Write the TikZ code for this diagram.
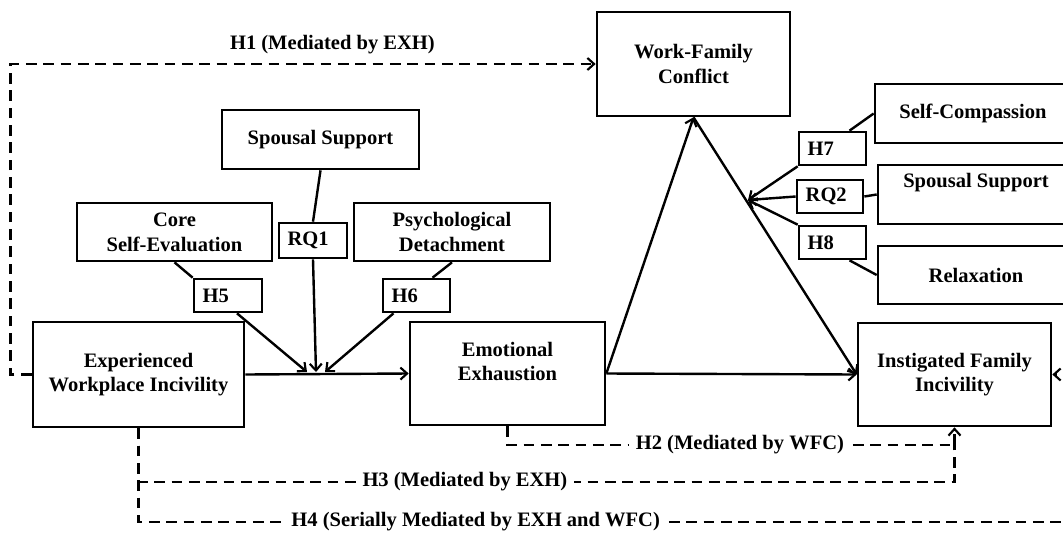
\documentclass[tikz,border=0pt]{standalone}
\usepackage{fontspec}
\setmainfont{Liberation Serif}
\usetikzlibrary{arrows.meta,calc}
\definecolor{black}{RGB}{0,0,0}
\definecolor{white}{RGB}{255,255,255}
\newcommand{\figfont}{\fontsize{15.4}{18.5}\selectfont\bfseries}
\tikzset{
  box/.style={draw=black, line width=2pt, align=center, inner sep=0pt, font=\figfont},
  txt/.style={align=center, inner sep=0pt, font=\figfont},
  tagbox/.style={draw=black, line width=2pt, align=left, inner xsep=6.5pt, inner ysep=0pt,
    minimum height=24.75pt, text width=#1, font=\figfont},
  link/.style={black, line width=1.8pt},
  arr/.style={link, -{Straight Barb[length=5pt,width=9pt,line width=1.6pt]}},
  dline/.style={link, dash pattern=on 8pt off 5pt},
  hyp/.style={font=\figfont, fill=white, inner xsep=5pt, inner ysep=1pt}
}

\begin{document}
\begin{tikzpicture}[x=0.75pt,y=-0.75pt]
	\useasboundingbox (0,0) rectangle (1063,536);
	\clip (0,0) rectangle (1063,536);

	% main constructs
	\node[box,minimum width=158.25pt,minimum height=78.75pt] (ewi) at (138.5,374.5) {Experienced\\Workplace Incivility};
	\node[box,minimum width=146.25pt,minimum height=77.25pt] (exh) at (507.5,373.5) {};
	\node[txt] (exhtext) at ([yshift=9pt]exh.center) {Emotional\\Exhaustion};
	\node[box,minimum width=144.75pt,minimum height=78pt] (wfc) at (693.5,64) {Work-Family\\Conflict};
	\node[box,minimum width=144.75pt,minimum height=77.25pt] (ifi) at (954.5,374.5) {Instigated Family\\Incivility};

	% moderators, left
	\node[box,minimum width=147.75pt,minimum height=44.25pt] (ss1) at (320.5,139.5) {Spousal Support};
	\node[box,minimum width=146.25pt,minimum height=43.5pt] (cse) at (174.5,232) {Core\\Self-Evaluation};
	\node[box,minimum width=147pt,minimum height=43.5pt] (pd) at (452,232) {Psychological\\Detachment};
	\node[tagbox=38pt] (h5) at (228,295.5) {H5};
	\node[tagbox=38pt,minimum height=26.25pt] (rq1) at (313,240.5) {RQ1};
	\node[tagbox=37.25pt] (h6) at (416.5,295.5) {H6};

	% moderators, right
	\node[box,minimum width=147pt,minimum height=44.25pt] (sc) at (973,113.5) {Self-Compassion};
	\node[box,minimum width=147pt,minimum height=44.25pt] (ss2) at (976,194.5) {};
	\node[txt] (ss2text) at ([yshift=9pt]ss2.center) {Spousal Support};
	\node[box,minimum width=147pt,minimum height=43.5pt] (rel) at (976,275) {Relaxation};
	\node[tagbox=37.25pt] (h7) at (832.5,148.5) {H7};
	\node[tagbox=36.5pt] (rq2) at (830,196.5) {RQ2};
	\node[tagbox=37.25pt] (h8) at (832.5,242.5) {H8};

	\coordinate (m1) at (316,372);
	\coordinate (m2) at (748,200);

	% direct paths
	\foreach \a/\b in {ewi/exh,exh/ifi}
		\draw[arr] (\a.east) -- (\b.west);
	\draw[arr] (exh.east) -- (wfc.south);
	\draw[arr] (wfc.south) -- (ifi.west);

	% moderation, left
	\draw[link] (cse.south) -- (h5.north west);
	\draw[arr] ($(h5.south)+(9,0)$) -- ($(m1)+(-9,0)$);
	\draw[link] (ss1.south) -- (rq1.north);
	\draw[arr] (rq1.south) -- (m1);
	\draw[link] (pd.south) -- ($(h6.north)+(16,0)$);
	\draw[arr] ($(h6.south)+(-23,0)$) -- ($(m1)+(9,0)$);

	% moderation, right
	\draw[link] (sc.west) -- ($(h7.north)+(17,0)$);
	\draw[link] (ss2.west) -- (rq2.east);
	\draw[link] (rel.west) -- ($(h8.south)+(17,0)$);
	\foreach \t in {h7.south west,rq2.west,h8.north west}
		\draw[arr] (\t) -- (m2);

	% indirect paths
	\coordinate (h2c) at (954.5,445);
	\coordinate (h3c) at (954.5,482);
	\coordinate (h4c) at (1075,522);
	\draw[dline,arr] (ewi.west) -- ++(-21,0) |- node[font=\figfont,above=3pt,pos=0.775] {H1 (Mediated by EXH)} (wfc.west);
	\draw[dline] (exh.south) |- node[hyp,pos=0.76] {H2 (Mediated by WFC)} (h2c);
	\draw[dline,arr] (h2c) -- (ifi.south);
	\draw[dline] (ewi.south) |- node[hyp,pos=0.70] {H3 (Mediated by EXH)} (h3c) -- (h2c);
	\draw[dline,arr] (ewi.south) |- node[hyp,pos=0.68] {H4 (Serially Mediated by EXH and WFC)} (h4c) |- (ifi.east);
\end{tikzpicture}
\end{document}
